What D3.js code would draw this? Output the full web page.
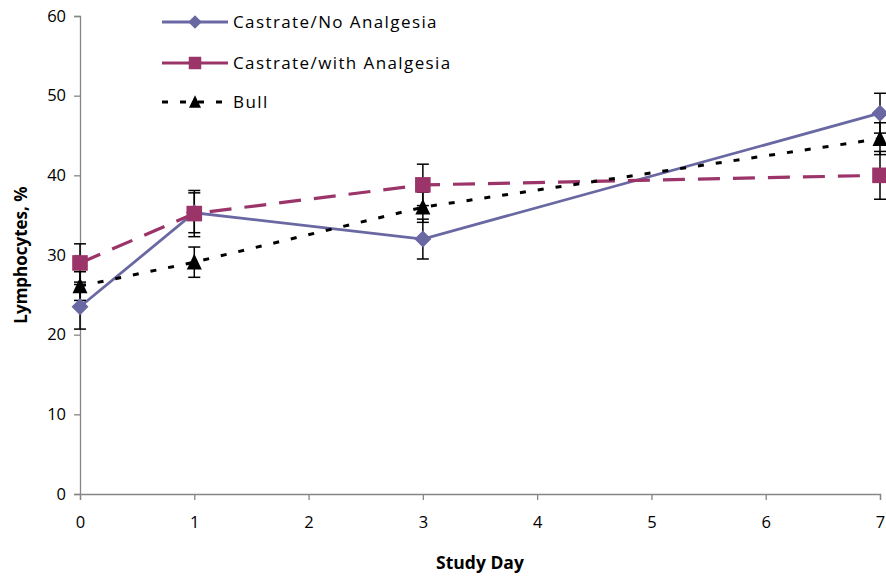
<!DOCTYPE html>
<html>
<head>
<meta charset="utf-8">
<script src="https://cdn.jsdelivr.net/npm/d3@7"></script>
<style>
  html, body { margin: 0; padding: 0; background: #fff; }
  svg text { font-family: "Open Sans", "Liberation Sans", sans-serif; }
</style>
</head>
<body>
<svg id="chart" width="886" height="581"></svg>
<script>
// Study days sampled
const days = [0, 1, 3, 7];

// Mean lymphocyte percentage per group and its error (±)
const noAnalgesia = [23.5, 35.3, 32.0, 47.8];
const noAnalgesiaErr = [2.8, 2.5, 2.5, 2.5];
const withAnalgesia = [29.0, 35.2, 38.8, 40.0];
const withAnalgesiaErr = [2.4, 2.9, 2.6, 3.0];
const bull = [26.1, 29.1, 36.0, 44.6];
const bullErr = [1.8, 1.9, 1.9, 2.0];

const seriesNames = ["Castrate/No Analgesia", "Castrate/with Analgesia", "Bull"];
const xTicks = [0, 1, 2, 3, 4, 5, 6, 7];
const yTicks = [0, 10, 20, 30, 40, 50, 60];

const series = [
  { name: seriesNames[0], values: noAnalgesia, err: noAnalgesiaErr, color: "#6a68a3", dash: null, width: 2.8, marker: "diamond" },
  { name: seriesNames[1], values: withAnalgesia, err: withAnalgesiaErr, color: "#9b3468", dash: "22,13", width: 3.2, marker: "square" },
  { name: seriesNames[2], values: bull, err: bullErr, color: "#000000", dash: "6,12", width: 3, marker: "triangle" }
];

const svg = d3.select("#chart");
const margin = { left: 80, right: 6, top: 16, bottom: 87 };
const W = 886, H = 581;

const x = d3.scaleLinear().domain([0, 7]).range([margin.left, W - margin.right]);
const y = d3.scaleLinear().domain([0, 60]).range([H - margin.bottom, margin.top]);

const axisColor = "#868686";

// Axes
const gx = svg.append("g")
  .attr("transform", `translate(0,${y(0)})`)
  .call(d3.axisBottom(x).tickValues(xTicks).tickSize(6).tickPadding(16).tickFormat(d3.format("d")));
const gy = svg.append("g")
  .attr("transform", `translate(${x(0)},0)`)
  .call(d3.axisLeft(y).tickValues(yTicks).tickSize(6).tickPadding(8).tickFormat(d3.format("d")));

[gx, gy].forEach(g => {
  g.select(".domain").attr("stroke", axisColor).attr("stroke-width", 1.3);
  g.selectAll(".tick line").attr("stroke", axisColor).attr("stroke-width", 1.3);
  g.selectAll(".tick text").attr("fill", "#000").style("font-size", "16.5px");
});

// Axis titles
svg.append("text")
  .attr("x", (x(0) + x(7)) / 2)
  .attr("y", 569)
  .attr("text-anchor", "middle")
  .style("font-size", "17.5px").style("font-weight", "bold")
  .text("Study Day");
svg.append("text")
  .attr("transform", `translate(27,${(y(0) + y(60)) / 2}) rotate(-90)`)
  .attr("text-anchor", "middle")
  .style("font-size", "17px").style("font-weight", "bold")
  .text("Lymphocytes, %");

// Marker shapes
function drawMarker(g, kind, cx, cy, color, scale) {
  const s = scale || 1;
  if (kind === "diamond") {
    const r = 8.5 * s;
    g.append("path")
      .attr("d", `M${cx},${cy - r}L${cx + r},${cy}L${cx},${cy + r}L${cx - r},${cy}Z`)
      .attr("fill", color);
  } else if (kind === "square") {
    const h = 7.8 * s;
    g.append("rect")
      .attr("x", cx - h).attr("y", cy - h).attr("width", 2 * h).attr("height", 2 * h)
      .attr("fill", color);
  } else {
    const w = 7.5 * s, h = 8.5 * s;
    g.append("path")
      .attr("d", `M${cx},${cy - h}L${cx + w},${cy + h * 0.85}L${cx - w},${cy + h * 0.85}Z`)
      .attr("fill", color);
  }
}

const line = d3.line().x((d, i) => x(days[i])).y(d => y(d));

const plot = svg.append("g");

// Lines
series.forEach(s => {
  plot.append("path")
    .datum(s.values)
    .attr("d", line)
    .attr("fill", "none")
    .attr("stroke", s.color)
    .attr("stroke-width", s.width)
    .attr("stroke-dasharray", s.dash);
});

// Error bars
series.forEach(s => {
  s.values.forEach((v, i) => {
    const cx = x(days[i]);
    const lo = y(v - s.err[i]), hi = y(v + s.err[i]);
    plot.append("line").attr("x1", cx).attr("x2", cx).attr("y1", lo).attr("y2", hi)
      .attr("stroke", "#000").attr("stroke-width", 1.5);
    [lo, hi].forEach(yy => {
      plot.append("line").attr("x1", cx - 6).attr("x2", cx + 6).attr("y1", yy).attr("y2", yy)
        .attr("stroke", "#000").attr("stroke-width", 1.5);
    });
  });
});

// Markers
series.forEach(s => {
  s.values.forEach((v, i) => drawMarker(plot, s.marker, x(days[i]), y(v), s.color));
});

// Legend
const legendY = [22, 63, 102];
const legend = svg.append("g");
series.forEach((s, i) => {
  const ly = legendY[i];
  legend.append("line")
    .attr("x1", 162).attr("x2", 228).attr("y1", ly).attr("y2", ly)
    .attr("stroke", s.color).attr("stroke-width", s.width)
    .attr("stroke-dasharray", i === 2 ? "6,12" : null);
  drawMarker(legend, s.marker, 195, ly, s.color, 0.8);
  legend.append("text")
    .attr("x", 233).attr("y", ly + 6)
    .style("font-size", "17px")
    .style("letter-spacing", "1.4px")
    .text(s.name);
});
</script>
</body>
</html>
